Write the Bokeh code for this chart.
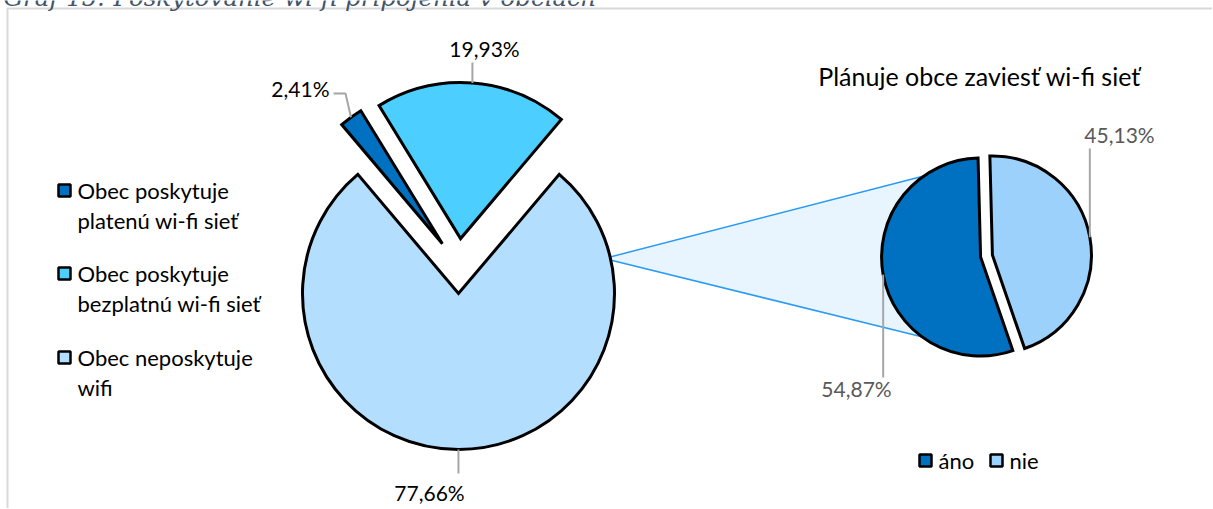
import math
from bokeh.plotting import figure
from bokeh.models import Range1d
from bokeh.embed import file_html
from bokeh.resources import INLINE
from bokeh.core.properties import value

# ---------------- data ----------------
caption = "Graf 15: Poskytovanie wi-fi pripojenia v obciach"
main_categories = ["Obec poskytuje platenú wi-fi sieť",
                   "Obec poskytuje bezplatnú wi-fi sieť",
                   "Obec neposkytuje wifi"]
main_legend_lines = [["Obec poskytuje", "platenú wi-fi sieť"],
                     ["Obec poskytuje", "bezplatnú wi-fi sieť"],
                     ["Obec neposkytuje", "wifi"]]
main_values = [2.41, 19.93, 77.66]
main_value_labels = ["2,41%", "19,93%", "77,66%"]

sub_title = "Plánuje obce zaviesť wi-fi sieť"
sub_categories = ["áno", "nie"]
sub_values = [54.87, 45.13]
sub_value_labels = ["54,87%", "45,13%"]

# ---------------- style / layout ----------------
main_colors = ["#0070C0", "#4CCFFF", "#B4DEFE"]
sub_colors = ["#0070C0", "#9BD1FB"]
FONT = "Lato"
W, H = 1212, 508
TOP = 509


def Y(py):
    return TOP - py


def slices(values, start_deg):
    total = float(sum(values))
    res = []
    a = start_deg
    for v in values:
        span = 360.0 * v / total
        res.append((a, a + span))
        a += span
    return res


def pt(cx, cy, r, theta):
    # theta clockwise from 12 o'clock, y up
    t = math.radians(theta)
    return cx + r * math.sin(t), cy + r * math.cos(t)


p = figure(width=W, height=H, output_backend="svg", toolbar_location=None,
           x_range=Range1d(0, W), y_range=Range1d(TOP - H, TOP),
           min_border=0, outline_line_color=None)
p.styles = {"position": "absolute", "left": "0px", "top": "0px"}
p.axis.visible = False
p.grid.visible = False
p.background_fill_color = "white"

# frame border
p.line([7, 7, 1213], [Y(509), Y(8), Y(8)], line_color="#D9D9D9", line_width=2)

# caption (cut off at the top, as in the source document)
p.text([3], [Y(-3)], text=[caption], text_font=value("DejaVu Serif"),
       text_font_style="italic", text_font_size="24.5px", text_color="#44546A",
       text_baseline="alphabetic", text_align="left")

# ---------------- main pie ----------------
M_CX, M_CY, M_R, M_EXP, M_START = 458, Y(265.5), 156, 27.5, 319.8
m_sl = slices(main_values, M_START)
m_centers = []
for (t1, t2) in m_sl:
    tm = (t1 + t2) / 2
    m_centers.append(pt(M_CX, M_CY, M_EXP, tm))

# second pie geometry
S_CX, S_CY, S_R, S_EXP, S_START = 986, Y(255.5), 99, 6, 161
s_sl = slices(sub_values, S_START)
s_centers = []
for (t1, t2) in s_sl:
    tm = (t1 + t2) / 2
    s_centers.append(pt(S_CX, S_CY, S_EXP, tm))

# connector (behind pies)
big_c = m_centers[2]
c0 = pt(big_c[0], big_c[1], M_R * 0.96, 76.5)
ano_c = s_centers[0]
c1 = pt(ano_c[0], ano_c[1], S_R, 325)
c2 = pt(ano_c[0], ano_c[1], S_R, 216.5)
p.patch([c0[0], c1[0], c2[0]], [c0[1], c1[1], c2[1]], fill_color="#E9F5FE",
        line_color=None)
p.line([c1[0], c0[0], c2[0]], [c1[1], c0[1], c2[1]], line_color="#2A9BF5",
       line_width=1.5)

for (t1, t2), (cx, cy), col in zip(m_sl, m_centers, main_colors):
    p.wedge(x=cx, y=cy, radius=M_R, start_angle=math.radians(90 - t2),
            end_angle=math.radians(90 - t1), direction="anticlock",
            fill_color=col, line_color="black", line_width=3,
            line_join="miter")

for (t1, t2), (cx, cy), col in zip(s_sl, s_centers, sub_colors):
    p.wedge(x=cx, y=cy, radius=S_R, start_angle=math.radians(90 - t2),
            end_angle=math.radians(90 - t1), direction="anticlock",
            fill_color=col, line_color="black", line_width=3,
            line_join="miter")

# ---------------- data labels with leader lines ----------------
LEADER = "#A6A6A6"
m_label_pos = [(329, 88, "right"), (484, 48, "center"), (429, 492, "center")]
m_knees = [[(345, 93), (333, 93)], [None, 62], [None, 473]]
for i, ((t1, t2), (cx, cy)) in enumerate(zip(m_sl, m_centers)):
    ax, ay = pt(cx, cy, M_R, (t1 + t2) / 2)
    k = m_knees[i]
    if k[0] is None:
        xs, ys = [ax, ax], [ay, Y(k[1])]
    else:
        xs = [ax] + [q[0] for q in k]
        ys = [ay] + [Y(q[1]) for q in k]
    p.line(xs, ys, line_color=LEADER, line_width=2)
    lx, ly, al = m_label_pos[i]
    p.text([lx], [Y(ly)], text=[main_value_labels[i]], text_font=value(FONT),
           text_font_size="21px", text_color="#000000", text_align=al,
           text_baseline="middle")

s_label_pos = [(856, 388, "center"), (1119, 134, "center")]
s_knee_y = [377, 148]
for i, ((t1, t2), (cx, cy)) in enumerate(zip(s_sl, s_centers)):
    ax, ay = pt(cx, cy, S_R, (t1 + t2) / 2)
    p.line([ax, ax], [ay, Y(s_knee_y[i])], line_color=LEADER, line_width=2)
    lx, ly, al = s_label_pos[i]
    p.text([lx], [Y(ly)], text=[sub_value_labels[i]], text_font=value(FONT),
           text_font_size="21px", text_color="#595959", text_align=al,
           text_baseline="middle")

# ---------------- legends ----------------
leg_y = [190, 273, 357]
for i, lines in enumerate(main_legend_lines):
    p.rect([64], [Y(leg_y[i])], width=12, height=12, fill_color=main_colors[i],
           line_color="black", line_width=2.5)
    for j, ln in enumerate(lines):
        p.text([77], [Y(leg_y[i] + 30 * j)], text=[ln], text_font=value(FONT),
               text_font_size="22px", text_color="#000000", text_align="left",
               text_baseline="middle")

sub_leg_x = [925, 996]
for i, cat in enumerate(sub_categories):
    p.rect([sub_leg_x[i]], [Y(460)], width=12, height=12,
           fill_color=sub_colors[i], line_color="black", line_width=2.5)
    p.text([sub_leg_x[i] + 13], [Y(460)], text=[cat], text_font=value(FONT),
           text_font_size="22px", text_color="#000000", text_align="left",
           text_baseline="middle")

p.text([979], [Y(75)], text=[sub_title], text_font=value(FONT),
       text_font_size="25px", text_color="#000000", text_align="center",
       text_baseline="middle")

open("out.html", "w").write(file_html(p, INLINE))
